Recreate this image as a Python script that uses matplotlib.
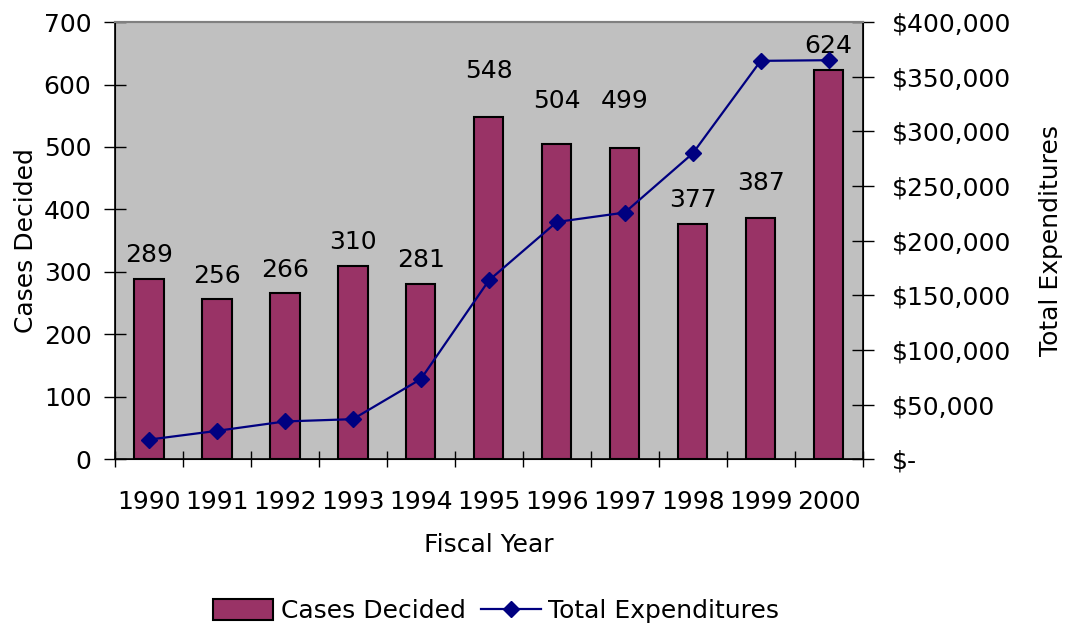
import numpy as np
import matplotlib
matplotlib.use('Agg')
import matplotlib.pyplot as plt
from matplotlib.ticker import FuncFormatter, MultipleLocator

years = ['1990', '1991', '1992', '1993', '1994', '1995', '1996', '1997', '1998', '1999', '2000']
cases = [289, 256, 266, 310, 281, 548, 504, 499, 377, 387, 624]
expenditures = [18000, 26000, 34600, 36700, 73400, 163600, 217100, 225700, 279800, 364500, 365100]

# extra lift of the value labels above each bar (left axis units)
label_lift = [38, 37, 37, 38, 38, 74, 69, 74, 38, 56, 37]

plt.rcParams['font.family'] = ['DejaVu Sans']
plt.rcParams['font.size'] = 18

fig = plt.figure(figsize=(10.65, 6.3), dpi=100)
ax = fig.add_axes([0.108, 0.271, 0.702, 0.694])
ax.set_facecolor('#C0C0C0')

x = np.arange(len(years))
ax.bar(x, cases, width=0.43, color='#993366', edgecolor='black', linewidth=1.5,
       label='Cases Decided', zorder=2)
for xi, v, lift in zip(x, cases, label_lift):
    ax.text(xi, v + lift, str(v), ha='center', va='center', fontsize=18)

ax.set_xlim(-0.5, len(years) - 0.5)
ax.set_ylim(0, 700)
ax.yaxis.set_major_locator(MultipleLocator(100))
ax.set_xticks(x)
ax.set_xticklabels(years)
ax.set_xticks(np.arange(-0.5, len(years)), minor=True)
ax.tick_params(axis='x', which='major', length=0, pad=22)
ax.tick_params(axis='x', which='minor', direction='inout', length=12, width=1)
ax.tick_params(axis='y', direction='inout', length=16, width=1, pad=9)
ax.set_ylabel('Cases Decided', fontsize=18, labelpad=4)
ax.set_xlabel('Fiscal Year', fontsize=18, labelpad=14)
for s in ['left', 'bottom']:
    ax.spines[s].set_linewidth(1.2)
ax.spines['top'].set_color('#808080')
ax.spines['top'].set_linewidth(1.5)

ax2 = ax.twinx()
ax2.plot(x, expenditures, color='#000080', linewidth=1.6, marker='D', markersize=8,
         label='Total Expenditures', zorder=3)
ax2.set_ylim(0, 400000)
ax2.yaxis.set_major_locator(MultipleLocator(50000))
ax2.yaxis.set_major_formatter(FuncFormatter(lambda v, p: '$-' if v == 0 else '${:,.0f}'.format(v)))
ax2.tick_params(axis='y', direction='inout', length=16, width=1, pad=13)
ax2.set_ylabel('Total Expenditures', fontsize=18, labelpad=20)
ax2.spines['right'].set_linewidth(1.2)
ax2.spines['top'].set_color('#808080')
ax2.spines['top'].set_linewidth(1.5)

h1, l1 = ax.get_legend_handles_labels()
h2, l2 = ax2.get_legend_handles_labels()
fig.legend(h1 + h2, l1 + l2, loc='center', bbox_to_anchor=(0.466, 0.03), ncol=2,
           frameon=False, fontsize=18, handlelength=2.4, handleheight=0.9,
           columnspacing=0.6, handletextpad=0.3)

plt.savefig('out.png', dpi=100)
plt.close()
